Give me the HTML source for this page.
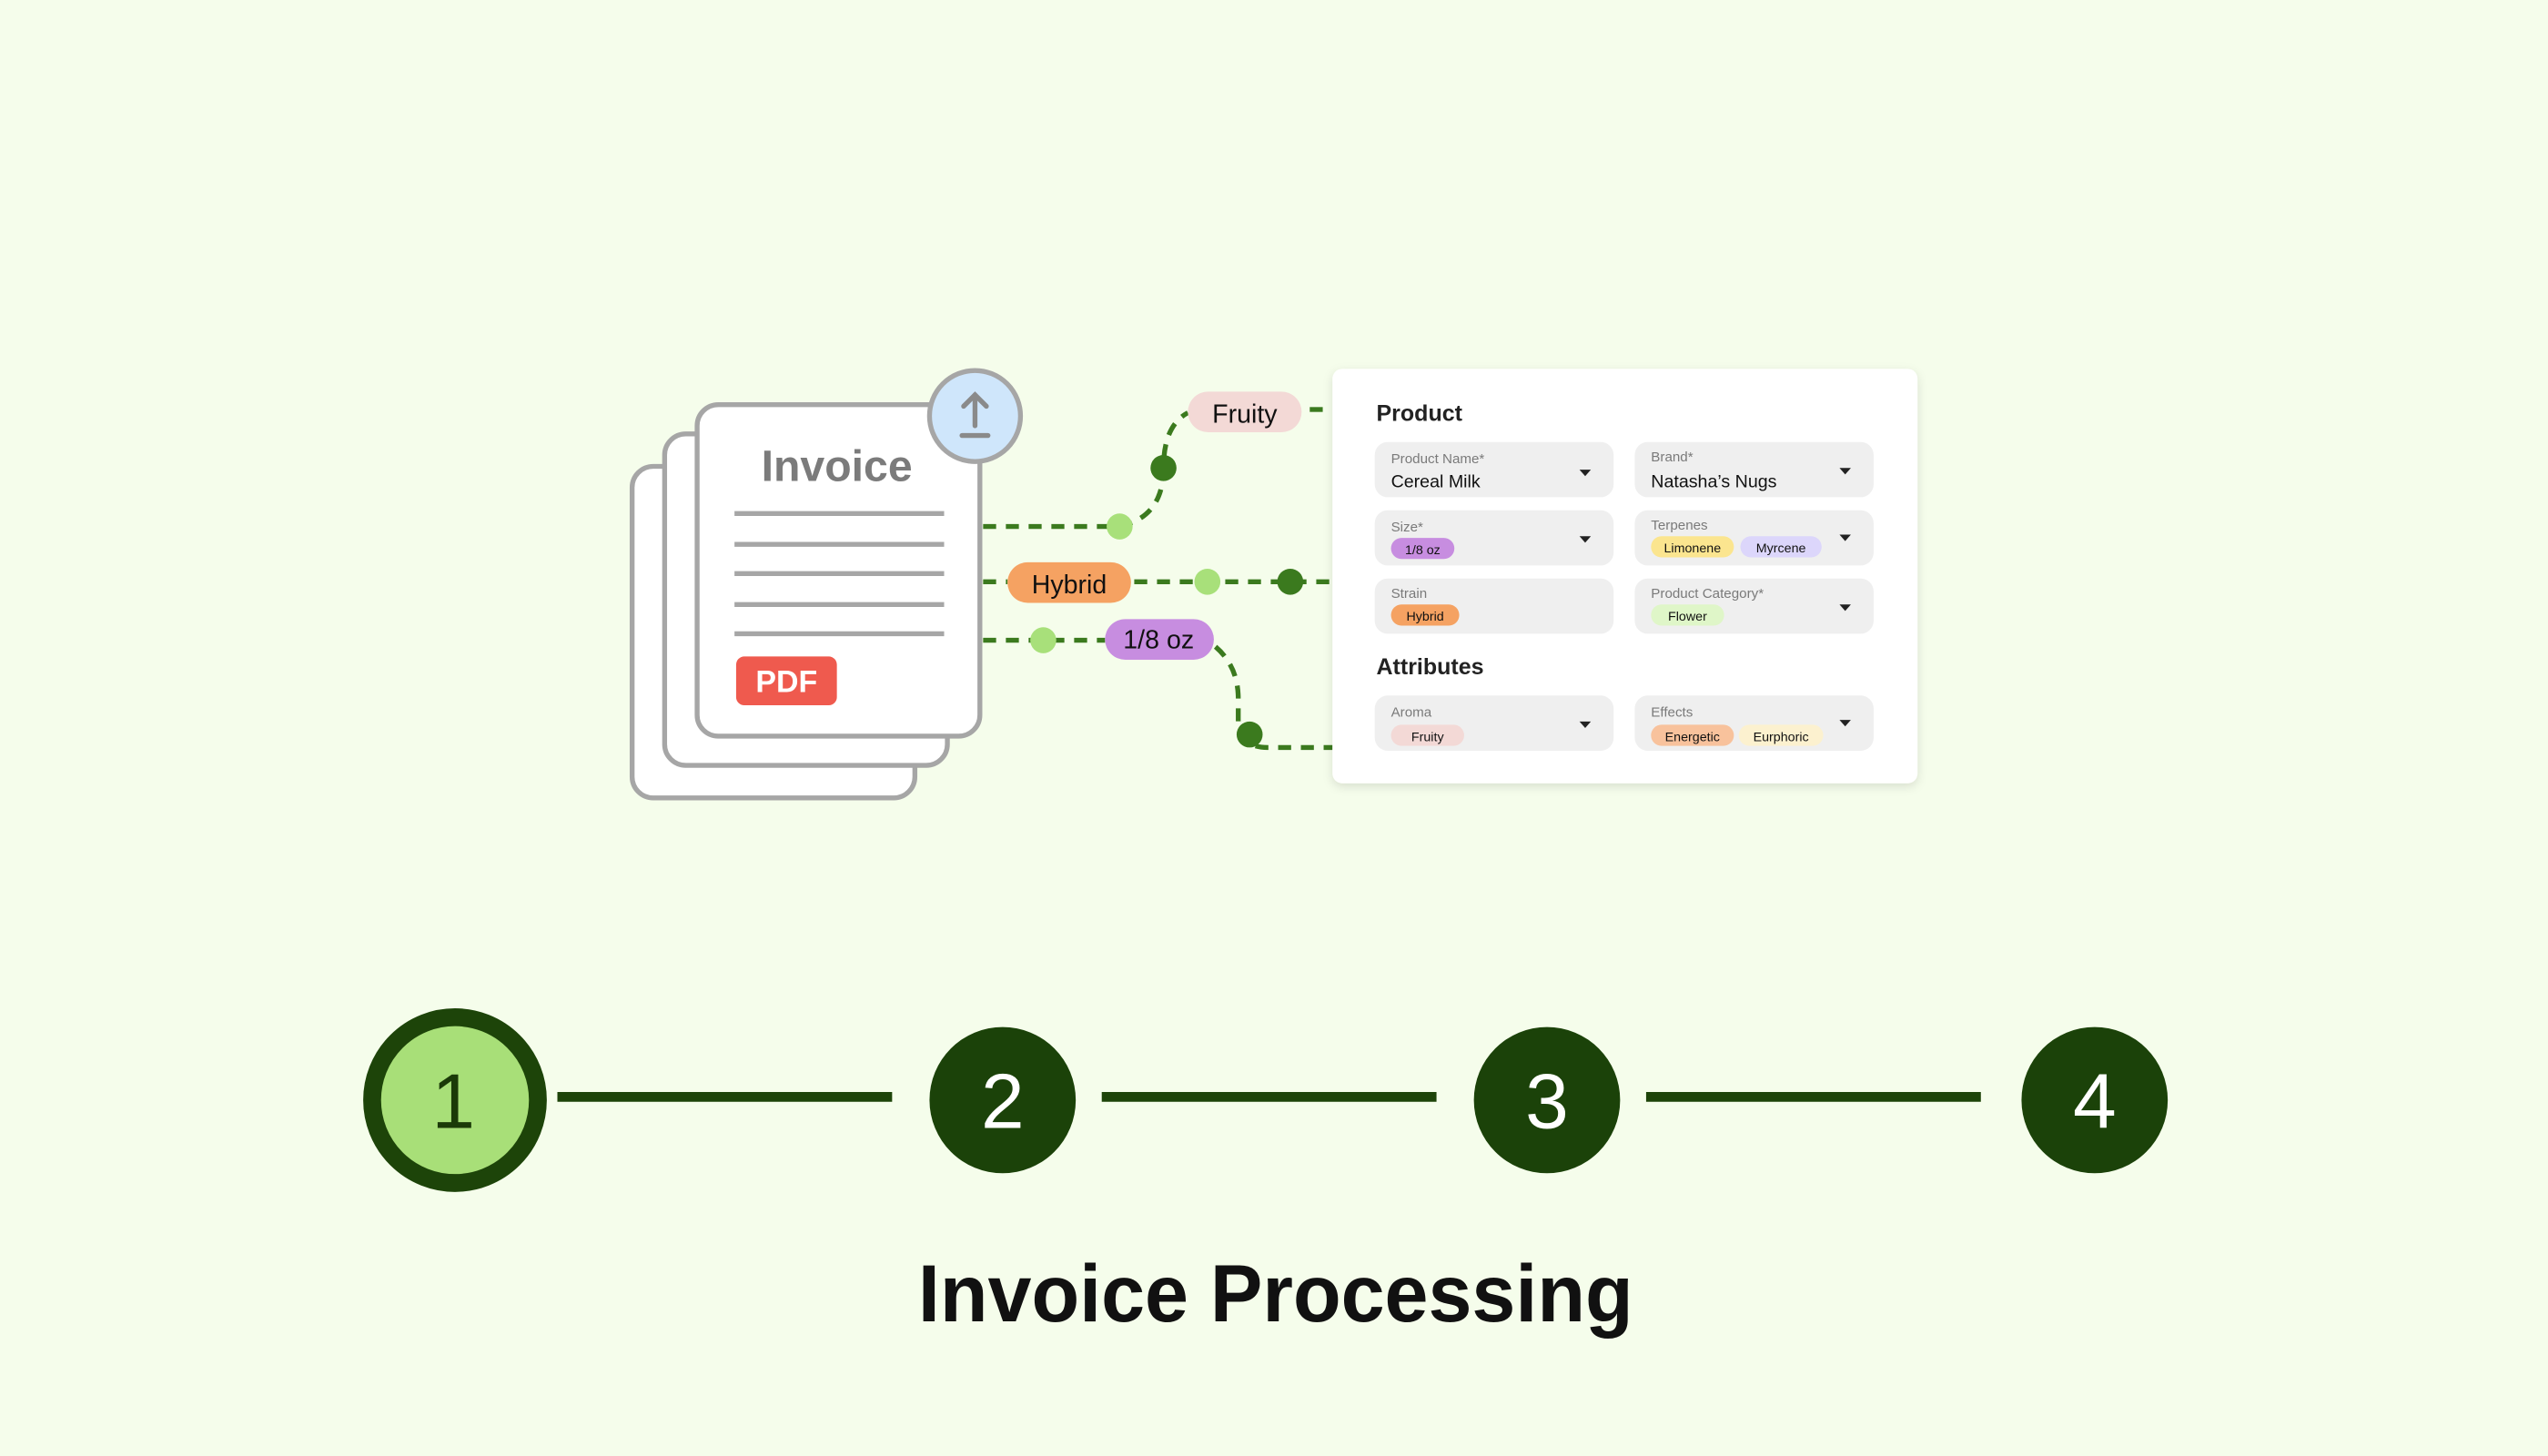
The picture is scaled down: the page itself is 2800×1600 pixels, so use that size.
<!DOCTYPE html>
<html><head><meta charset="utf-8"><style>
html,body{margin:0;padding:0;background:#f5fdeb;}
svg{display:block;}
text{font-family:"Liberation Sans",sans-serif;}
</style></head><body>
<svg width="2800" height="1600" viewBox="0 0 1568 896" xmlns="http://www.w3.org/2000/svg">
<defs>
<filter id="sh" x="-10%" y="-10%" width="120%" height="125%"><feDropShadow dx="0" dy="2" stdDeviation="3" flood-color="#000" flood-opacity="0.12"/></filter>
</defs>
<rect width="1568" height="896" fill="#f5fdeb"/>
<!-- doc stack -->
<rect x="389" y="287" width="174" height="204" rx="13" fill="#fff" stroke="#a6a6a6" stroke-width="3"/>
<rect x="409" y="267" width="174" height="204" rx="13" fill="#fff" stroke="#a6a6a6" stroke-width="3"/>
<rect x="429" y="249" width="174" height="204" rx="13" fill="#fff" stroke="#a6a6a6" stroke-width="3"/>
<text x="515" y="296" font-size="27" font-weight="600" fill="#7b7b7b" text-anchor="middle">Invoice</text>
<g stroke="#a6a6a6" stroke-width="3">
<line x1="452" y1="316" x2="581" y2="316"/><line x1="452" y1="335" x2="581" y2="335"/>
<line x1="452" y1="353" x2="581" y2="353"/><line x1="452" y1="372" x2="581" y2="372"/>
<line x1="452" y1="390" x2="581" y2="390"/></g>
<rect x="453" y="404" width="62" height="30" rx="5" fill="#ef5a4e"/>
<text x="484" y="426" font-size="19" font-weight="700" fill="#fff" text-anchor="middle">PDF</text>
<circle cx="600" cy="256" r="28" fill="#cfe6fb" stroke="#a6a6a6" stroke-width="3"/>
<g stroke="#8a8a8a" stroke-width="3" fill="none" stroke-linecap="round"><line x1="600" y1="243" x2="600" y2="262"/><polyline points="593,250 600,243 607,250"/><line x1="592" y1="268" x2="608" y2="268"/></g>
<!-- connectors -->
<g stroke="#3b7a1e" stroke-width="3" fill="none" stroke-dasharray="8 6">
<path d="M605 324 H689 Q716 318 716 288 Q716 262 731 254"/>
<line x1="806" y1="252" x2="820" y2="252"/>
<line x1="605" y1="358" x2="620" y2="358"/>
<line x1="698" y1="358" x2="820" y2="358"/>
<line x1="605" y1="394" x2="680" y2="394"/>
<path d="M748 398 Q762 410 762 430 V446 Q764 460 780 460 H820"/>
</g>
<circle cx="689" cy="324" r="8" fill="#a8e07a"/>
<circle cx="716" cy="288" r="8" fill="#3b7a1e"/>
<circle cx="743" cy="358" r="8" fill="#a8e07a"/>
<circle cx="794" cy="358" r="8" fill="#3b7a1e"/>
<circle cx="642" cy="394" r="8" fill="#a8e07a"/>
<circle cx="769" cy="452" r="8" fill="#3b7a1e"/>
<rect x="731" y="241" width="70" height="25" rx="12.5" fill="#f3d9d6"/>
<text x="766" y="260" font-size="16" fill="#111" text-anchor="middle">Fruity</text>
<rect x="620" y="346" width="76" height="25" rx="12.5" fill="#f5a262"/>
<text x="658" y="365" font-size="16" fill="#111" text-anchor="middle">Hybrid</text>
<rect x="680" y="381" width="67" height="25" rx="12.5" fill="#c78de0"/>
<text x="713" y="399" font-size="16" fill="#111" text-anchor="middle">1/8 oz</text>
<!-- card -->
<rect x="820" y="227" width="360" height="255" rx="6" fill="#fff" filter="url(#sh)"/>
<text x="847" y="259" font-size="14" font-weight="700" fill="#222">Product</text>
<text x="847" y="415" font-size="14" font-weight="700" fill="#222">Attributes</text>
<g fill="#efefef">
<rect x="846" y="272" width="147" height="34" rx="8"/><rect x="1006" y="272" width="147" height="34" rx="8"/>
<rect x="846" y="314" width="147" height="34" rx="8"/><rect x="1006" y="314" width="147" height="34" rx="8"/>
<rect x="846" y="356" width="147" height="34" rx="8"/><rect x="1006" y="356" width="147" height="34" rx="8"/>
<rect x="846" y="428" width="147" height="34" rx="8"/><rect x="1006" y="428" width="147" height="34" rx="8"/>
</g>
<g font-size="8.5" fill="#7a7a7a">
<text x="856" y="285">Product Name*</text><text x="1016" y="284">Brand*</text>
<text x="856" y="327">Size*</text><text x="1016" y="326">Terpenes</text>
<text x="856" y="368">Strain</text><text x="1016" y="368">Product Category*</text>
<text x="856" y="441">Aroma</text><text x="1016" y="441">Effects</text>
</g>
<g font-size="11" fill="#111"><text x="856" y="300">Cereal Milk</text><text x="1016" y="300">Natasha’s Nugs</text></g>
<g fill="#222">
<polygon points="972,289 979,289 975.5,293"/><polygon points="1132,288 1139,288 1135.5,292"/>
<polygon points="972,330 979,330 975.5,334"/><polygon points="1132,329 1139,329 1135.5,333"/>
<polygon points="1132,372 1139,372 1135.5,376"/>
<polygon points="972,444 979,444 975.5,448"/><polygon points="1132,443 1139,443 1135.5,447"/>
</g>
<rect x="856" y="331" width="39" height="13" rx="6.5" fill="#c78de0"/>
<rect x="1016" y="330" width="51" height="13" rx="6.5" fill="#fbe58f"/>
<rect x="1071" y="330" width="50" height="13" rx="6.5" fill="#dcd6fb"/>
<rect x="856" y="372" width="42" height="13" rx="6.5" fill="#f5a262"/>
<rect x="1016" y="372" width="45" height="13" rx="6.5" fill="#dff6c8"/>
<rect x="856" y="446" width="45" height="13" rx="6.5" fill="#f3d9d6"/>
<rect x="1016" y="446" width="51" height="13" rx="6.5" fill="#f8c29c"/>
<rect x="1070" y="446" width="52" height="13" rx="6.5" fill="#fcf1cf"/>
<g font-size="8" fill="#111" text-anchor="middle">
<text x="875.5" y="341">1/8 oz</text><text x="1041.5" y="340">Limonene</text><text x="1096" y="340">Myrcene</text>
<text x="877" y="382">Hybrid</text><text x="1038.5" y="382">Flower</text>
<text x="878.5" y="456">Fruity</text><text x="1041.5" y="456">Energetic</text><text x="1096" y="456">Eurphoric</text>
</g>
<!-- stepper -->
<g stroke="#1d4409" stroke-width="6">
<line x1="343" y1="675" x2="549" y2="675"/><line x1="678" y1="675" x2="884" y2="675"/><line x1="1013" y1="675" x2="1219" y2="675"/>
</g>
<circle cx="280" cy="677" r="51" fill="#a8df78" stroke="#1d4409" stroke-width="11"/>
<circle cx="617" cy="677" r="45" fill="#1b4209"/>
<circle cx="952" cy="677" r="45" fill="#1b4209"/>
<circle cx="1289" cy="677" r="45" fill="#1b4209"/>
<g font-size="48" text-anchor="middle">
<text x="279" y="694" fill="#1b3a08">1</text>
<text x="617" y="694" fill="#fff">2</text>
<text x="952" y="694" fill="#fff">3</text>
<text x="1289" y="694" fill="#fff">4</text>
</g>
<text x="565" y="813" font-size="50" font-weight="600" fill="#111" textLength="440" lengthAdjust="spacingAndGlyphs">Invoice Processing</text>
</svg>
</body></html>
